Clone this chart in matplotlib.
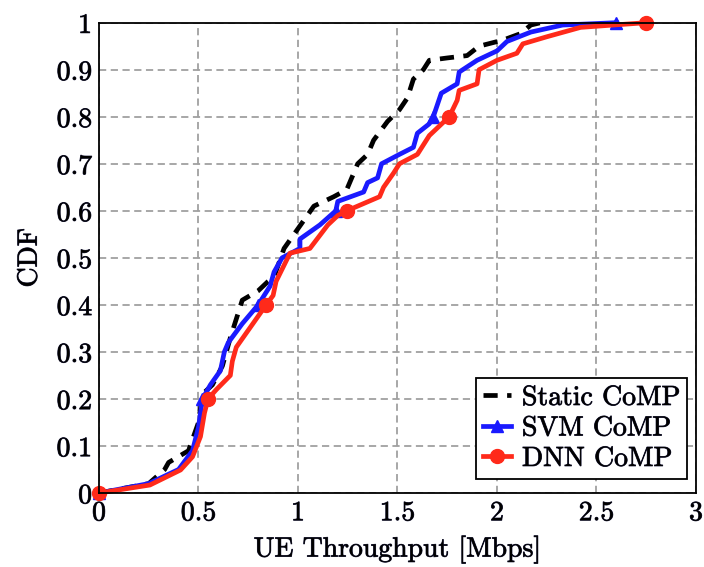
import matplotlib
matplotlib.use('Agg')
import matplotlib.pyplot as plt
import matplotlib.patheffects as pe

plt.rcParams['font.family'] = ['cmr10', 'DejaVu Serif']
plt.rcParams['axes.formatter.use_mathtext'] = True

# CDF curves (throughput in Mbps, CDF)
static_x = [0, 0.25, 0.33, 0.35, 0.37, 0.45, 0.50, 0.52, 0.57, 0.62, 0.66, 0.69, 0.72, 0.76,
            0.80, 0.85, 0.88, 0.93, 0.98, 1.08, 1.18, 1.245, 1.30, 1.35, 1.38, 1.45, 1.51,
            1.55, 1.58, 1.63, 1.66, 1.75, 1.85, 1.91, 2.03, 2.12, 2.17, 2.22]
static_y = [0, 0.02, 0.05, 0.065, 0.07, 0.09, 0.15, 0.21, 0.23, 0.27, 0.33, 0.37, 0.41, 0.42,
            0.43, 0.45, 0.46, 0.52, 0.55, 0.61, 0.63, 0.645, 0.70, 0.72, 0.75, 0.79, 0.815,
            0.84, 0.88, 0.90, 0.92, 0.925, 0.93, 0.95, 0.963, 0.977, 0.995, 1.0]

svm_x = [0, 0.25, 0.40, 0.47, 0.50, 0.52, 0.56, 0.61, 0.63, 0.65, 0.72, 0.80, 0.86, 0.88,
         0.92, 1.01, 1.01, 1.11, 1.19, 1.20, 1.33, 1.35, 1.40, 1.42, 1.51, 1.58, 1.60, 1.66,
         1.68, 1.72, 1.80, 1.81, 1.90, 2.0, 2.05, 2.17, 2.33, 2.60]
svm_y = [0, 0.02, 0.05, 0.09, 0.14, 0.2, 0.23, 0.26, 0.30, 0.32, 0.36, 0.4, 0.44, 0.47,
         0.50, 0.52, 0.54, 0.57, 0.6, 0.62, 0.64, 0.66, 0.67, 0.70, 0.72, 0.735, 0.765, 0.785,
         0.8, 0.85, 0.87, 0.895, 0.92, 0.94, 0.96, 0.98, 0.995, 1.0]

dnn_x = [0, 0.256, 0.41, 0.47, 0.51, 0.53, 0.548, 0.59, 0.66, 0.67, 0.69, 0.74, 0.84, 0.875,
         0.89, 0.96, 1.06, 1.15, 1.20, 1.245, 1.41, 1.43, 1.48, 1.51, 1.60, 1.66, 1.71, 1.76,
         1.80, 1.81, 1.90, 1.91, 2.0, 2.10, 2.13, 2.25, 2.42, 2.75]
dnn_y = [0, 0.017, 0.049, 0.077, 0.12, 0.17, 0.2, 0.22, 0.25, 0.28, 0.31, 0.34, 0.4, 0.42,
         0.45, 0.51, 0.52, 0.57, 0.59, 0.6, 0.63, 0.65, 0.68, 0.70, 0.72, 0.76, 0.78, 0.8,
         0.835, 0.856, 0.87, 0.90, 0.92, 0.935, 0.955, 0.97, 0.99, 1.0]

mark_levels = [0, 0.2, 0.4, 0.6, 0.8, 1.0]


def mark_idx(ys):
    return [i for i, v in enumerate(ys) if any(abs(v - m) < 1e-9 for m in mark_levels)]


fs = 20
bold = [pe.withStroke(linewidth=0.6, foreground='#202040')]

fig = plt.figure(figsize=(7.04, 5.67), dpi=100)
ax = fig.add_axes([0.1406, 0.1305, 0.848, 0.8295])

ax.plot(static_x, static_y, color='black', lw=3.4, dashes=(3, 2), label='Static CoMP',
        dash_capstyle='butt')
ax.plot(svm_x, svm_y, color='#1a1aff', lw=3.4, marker='^', ms=9, markevery=mark_idx(svm_y),
        label='SVM CoMP', clip_on=False)
ax.plot(dnn_x, dnn_y, color='#ff2a1a', lw=3.4, marker='o', ms=10, markevery=mark_idx(dnn_y),
        label='DNN CoMP', clip_on=False)

ax.set_xlim(0, 3)
ax.set_ylim(0, 1)
ax.set_xticks([0, 0.5, 1, 1.5, 2, 2.5, 3])
ax.set_xticklabels(['0', '0.5', '1', '1.5', '2', '2.5', '3'])
ax.set_yticks([0, 0.1, 0.2, 0.3, 0.4, 0.5, 0.6, 0.7, 0.8, 0.9, 1])
ax.set_yticklabels(['0', '0.1', '0.2', '0.3', '0.4', '0.5', '0.6', '0.7', '0.8', '0.9', '1'])
ax.tick_params(length=0, labelsize=fs, pad=5)
for t in ax.get_xticklabels() + ax.get_yticklabels():
    t.set_path_effects(bold)
ax.grid(True, color='#a0a0a0', ls=(0, (4, 2.5)), lw=1.3)
ax.set_axisbelow(True)
for s in ax.spines.values():
    s.set_linewidth(1.3)

ax.set_xlabel('UE Throughput [Mbps]', fontsize=fs, labelpad=6, path_effects=bold)
ax.set_ylabel('CDF', fontsize=fs, labelpad=10, path_effects=bold)

leg = ax.legend(loc='lower right', bbox_to_anchor=(0.985, 0.03), fontsize=fs, frameon=True,
                fancybox=False, edgecolor='black', framealpha=1, handlelength=1.0,
                handletextpad=0.4, borderpad=0.25, labelspacing=0.15, borderaxespad=0)
leg.get_frame().set_linewidth(1.3)
for t in leg.get_texts():
    t.set_path_effects(bold)

fig.savefig('out.png', dpi=100)
